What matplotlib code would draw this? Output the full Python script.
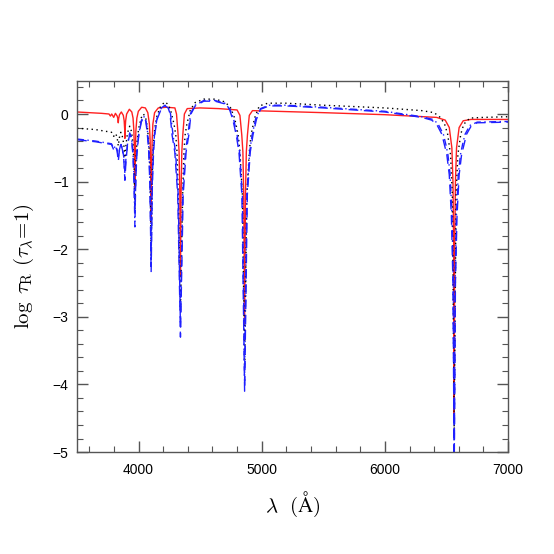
import matplotlib
matplotlib.use("Agg")
import matplotlib.pyplot as plt
from matplotlib.ticker import MultipleLocator

# ---- data (wavelength in Angstrom, log tau_R) ----
red_wave = [3500, 3600, 3700, 3760, 3771, 3782, 3798, 3812, 3826, 3832, 3835, 3838, 3845, 3860,
            3876, 3883, 3887, 3889, 3891, 3895, 3903, 3925, 3945, 3955, 3962, 3966, 3970, 3974,
            3978, 3986, 3998, 4025, 4055, 4075, 4088, 4094, 4098, 4102, 4106, 4110, 4116, 4130,
            4160, 4230, 4295, 4308, 4321, 4329, 4335, 4340, 4345, 4351, 4359, 4372, 4395, 4500,
            4650, 4800, 4823, 4838, 4847, 4854, 4861, 4868, 4875, 4884, 4899, 4925, 5500, 6000,
            6420, 6490, 6523, 6544, 6553, 6559, 6563, 6567, 6573, 6582, 6603, 6636, 6700, 7000]
red_logtau = [0.03, 0.02, 0.01, 0.00, -0.03, 0.00, -0.05, 0.01, -0.03, -0.07, -0.13, -0.07, -0.01, 0.03,
              -0.02, -0.10, -0.22, -0.36, -0.22, -0.10, 0.00, 0.07, 0.03, -0.06, -0.25, -0.55, -1.10, -0.55,
              -0.25, -0.06, 0.04, 0.10, 0.09, 0.02, -0.15, -0.40, -0.80, -1.60, -0.80, -0.40, -0.15, 0.02,
              0.09, 0.10, 0.09, 0.00, -0.31, -0.56, -1.20, -2.40, -1.20, -0.56, -0.31, 0.00, 0.08, 0.09,
              0.08, 0.06, -0.02, -0.31, -0.56, -1.20, -3.10, -1.20, -0.56, -0.31, -0.02, 0.05, 0.02, -0.01,
              -0.05, -0.09, -0.20, -0.50, -1.00, -2.00, -4.50, -2.00, -1.00, -0.50, -0.20, -0.10, -0.08, -0.08]

dot_wave = [3500, 3650, 3780, 3798, 3815, 3826, 3835, 3844, 3856, 3868, 3880, 3889, 3898, 3910,
            3928, 3943, 3955, 3963, 3970, 3977, 3985, 4000, 4020, 4040, 4058, 4072, 4084, 4093,
            4102, 4111, 4120, 4132, 4150, 4180, 4215, 4240, 4260, 4288, 4302, 4312, 4322, 4340,
            4358, 4368, 4378, 4392, 4420, 4460, 4530, 4620, 4700, 4745, 4780, 4809, 4823, 4843,
            4861, 4879, 4899, 4913, 4942, 4980, 5050, 5200, 5500, 6000, 6300, 6400, 6450, 6485,
            6510, 6533, 6548, 6563, 6578, 6593, 6616, 6641, 6690, 6800, 7000]
dot_logtau = [-0.21, -0.23, -0.27, -0.33, -0.29, -0.35, -0.47, -0.35, -0.27, -0.33, -0.45, -0.65, -0.45, -0.28,
              -0.18, -0.26, -0.45, -0.75, -1.40, -0.75, -0.45, -0.22, -0.06, 0.00, -0.06, -0.20, -0.45, -0.85,
              -2.10, -0.85, -0.45, -0.20, -0.02, 0.12, 0.18, 0.14, 0.06, -0.15, -0.31, -0.56, -1.20, -2.90,
              -1.20, -0.56, -0.31, -0.15, 0.06, 0.17, 0.22, 0.22, 0.18, 0.10, -0.06, -0.31, -0.56, -1.20,
              -3.70, -1.20, -0.56, -0.31, -0.06, 0.12, 0.16, 0.16, 0.13, 0.09, 0.05, 0.02, -0.05, -0.15,
              -0.30, -0.60, -1.20, -4.70, -1.20, -0.60, -0.30, -0.15, -0.06, -0.05, -0.04]

dash_wave = [3500, 3650, 3780, 3798, 3814, 3826, 3835, 3844, 3857, 3869, 3880, 3889, 3898, 3911,
             3928, 3942, 3954, 3962, 3970, 3978, 3986, 4001, 4022, 4040, 4058, 4070, 4082, 4092,
             4102, 4112, 4122, 4134, 4152, 4185, 4215, 4240, 4255, 4272, 4294, 4318, 4340, 4362,
             4386, 4408, 4425, 4460, 4530, 4620, 4700, 4740, 4765, 4793, 4815, 4839, 4861, 4883,
             4907, 4929, 4957, 4990, 5060, 5200, 5500, 6000, 6300, 6380, 6420, 6463, 6483, 6503,
             6523, 6540, 6553, 6563, 6573, 6586, 6603, 6623, 6643, 6663, 6700, 6750, 7000]
dash_logtau = [-0.38, -0.41, -0.45, -0.53, -0.48, -0.55, -0.70, -0.55, -0.45, -0.53, -0.68, -0.98, -0.68, -0.45,
               -0.30, -0.36, -0.60, -0.95, -1.45, -0.95, -0.60, -0.32, -0.12, -0.05, -0.10, -0.27, -0.55, -1.05,
               -2.34, -1.05, -0.55, -0.27, -0.07, 0.08, 0.12, 0.09, 0.01, -0.31, -0.56, -1.20, -3.30, -1.20,
               -0.56, -0.31, 0.00, 0.12, 0.19, 0.19, 0.15, 0.06, -0.08, -0.31, -0.56, -1.20, -4.10, -1.20,
               -0.56, -0.31, -0.08, 0.07, 0.12, 0.12, 0.09, 0.03, -0.05, -0.09, -0.15, -0.30, -0.45, -0.60,
               -0.90, -1.50, -2.50, -5.30, -2.50, -1.50, -0.90, -0.60, -0.45, -0.30, -0.18, -0.13, -0.12]

dd_wave = [3500, 3650, 3780, 3798, 3814, 3826, 3835, 3844, 3857, 3869, 3880, 3889, 3898, 3911,
           3928, 3942, 3955, 3963, 3970, 3977, 3985, 4001, 4022, 4040, 4058, 4072, 4084, 4093,
           4102, 4111, 4120, 4132, 4152, 4185, 4215, 4240, 4258, 4280, 4300, 4322, 4340, 4358,
           4380, 4400, 4422, 4460, 4530, 4620, 4700, 4742, 4770, 4800, 4820, 4843, 4861, 4879,
           4902, 4922, 4952, 4990, 5060, 5200, 5500, 6000, 6300, 6390, 6430, 6475, 6495, 6512,
           6530, 6545, 6556, 6563, 6570, 6581, 6596, 6614, 6631, 6651, 6690, 6750, 7000]
dd_logtau = [-0.37, -0.40, -0.44, -0.51, -0.47, -0.53, -0.64, -0.53, -0.44, -0.51, -0.64, -0.88, -0.64, -0.43,
             -0.28, -0.34, -0.58, -0.95, -1.67, -0.95, -0.58, -0.30, -0.10, -0.03, -0.08, -0.25, -0.52, -1.00,
             -2.15, -1.00, -0.52, -0.25, -0.05, 0.09, 0.13, 0.10, 0.02, -0.31, -0.56, -1.20, -3.15, -1.20,
             -0.56, -0.31, 0.01, 0.13, 0.20, 0.20, 0.16, 0.07, -0.06, -0.31, -0.56, -1.20, -3.95, -1.20,
             -0.56, -0.31, -0.06, 0.08, 0.13, 0.13, 0.10, 0.04, -0.04, -0.08, -0.14, -0.30, -0.45, -0.60,
             -0.90, -1.50, -2.50, -5.30, -2.50, -1.50, -0.90, -0.60, -0.45, -0.30, -0.17, -0.12, -0.11]

x_major_ticks = [4000, 5000, 6000, 7000]
y_major_ticks = [0, -1, -2, -3, -4, -5]
y_tick_labels = ['0', '\u22121', '\u22122', '\u22123', '\u22124', '\u22125']

# ---- figure ----
plt.rcParams['mathtext.fontset'] = 'cm'
fig = plt.figure(figsize=(5.54, 5.54), dpi=100)
ax = fig.add_axes([0.139, 0.184, 0.778, 0.670])

ax.plot(red_wave, red_logtau, color='#ff2020', lw=1.0, ls='-')
ax.plot(dot_wave, dot_logtau, color='black', lw=1.0, ls=(0, (1, 2.5)))
ax.plot(dash_wave, dash_logtau, color='#2020ff', lw=1.0, ls=(0, (7, 4)))
ax.plot(dd_wave, dd_logtau, color='#2020ff', lw=1.0, ls=(0, (5, 2.5, 1, 2.5)))

ax.set_xlim(3500, 7000)
ax.set_ylim(-5, 0.49)
ax.set_xticks(x_major_ticks)
ax.set_yticks(y_major_ticks)
ax.set_yticklabels(y_tick_labels)
ax.xaxis.set_minor_locator(MultipleLocator(200))
ax.yaxis.set_minor_locator(MultipleLocator(0.2))
ax.tick_params(which='both', direction='in', top=True, right=True, colors='#555555',
               labelcolor='black', labelsize=10)
ax.tick_params(which='major', length=8, width=1)
ax.tick_params(which='minor', length=4, width=0.8)
for lab in ax.get_xticklabels() + ax.get_yticklabels():
    lab.set_fontfamily('Liberation Sans')
ax.tick_params(axis='x', pad=8)
ax.tick_params(axis='y', pad=6)
for s in ax.spines.values():
    s.set_color('#555555')
    s.set_linewidth(1.0)

ax.set_xlabel(r'$\lambda\ \ (\rm\AA)$', fontsize=15, labelpad=9)
ax.set_ylabel(r'$\log\ \tau_{\rm R}\ (\tau_\lambda\!=\!1)$', fontsize=15, labelpad=12)

fig.savefig('out.png', dpi=100)
